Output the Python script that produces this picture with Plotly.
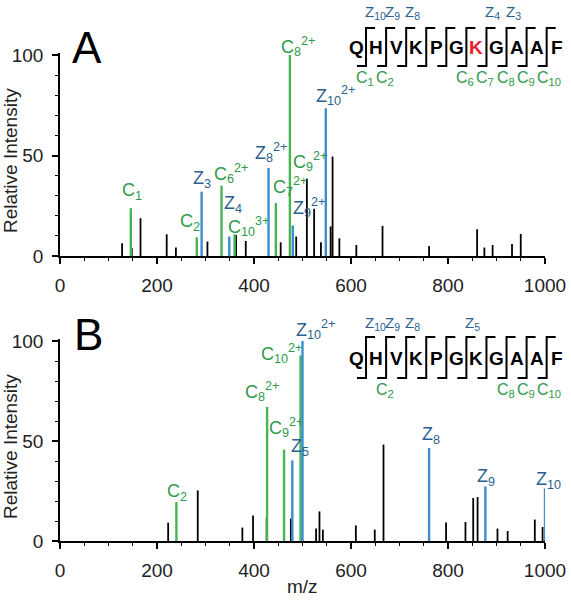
import plotly.graph_objects as go

W, H = 571, 600

# ---------------- data: panel A ----------------
a_black_mz = [128, 148, 166, 220, 239, 304, 363, 383, 455, 487, 509, 524, 538, 558, 562, 576,
              611, 665, 761, 860, 875, 892, 932, 950]
a_black_int = [6.3, 4, 18.8, 10.8, 4.2, 7.2, 10.5, 7.5, 6.8, 9.7, 38.5, 23.5, 6.8, 14.7, 49.5, 8.8,
               5.5, 15, 5, 13.3, 4.2, 5.5, 6, 11]
a_c_mz = [146, 282, 333, 360, 445, 474]
a_c_int = [23.8, 9.3, 35, 10.8, 26.3, 100]
a_c_lab = ["C<sub>1</sub>", "C<sub>2</sub>", "C<sub>6</sub><sup>2+</sup>", "C<sub>10</sub><sup>3+</sup>",
           "C<sub>7</sub><sup>2+</sup>", "C<sub>8</sub><sup>2+</sup>"]
a_z_mz = [292, 349, 430, 480, 548]
a_z_int = [32, 9.7, 43.8, 15.2, 73.5]
a_z_lab = ["Z<sub>3</sub>", "Z<sub>4</sub>", "Z<sub>8</sub><sup>2+</sup>", "Z<sub>9</sub><sup>2+</sup>",
           "Z<sub>10</sub><sup>2+</sup>"]
a_extra_mz = [509]
a_extra_int = [38.5]
a_extra_lab = ["C<sub>9</sub><sup>2+</sup>"]

# ---------------- data: panel B ----------------
b_black_mz = [223, 284, 376, 398, 426, 476, 528, 535, 542, 610, 649, 667, 796, 836, 852, 861,
              902, 923, 979, 995]
b_black_int = [9.2, 25.3, 6.7, 12.8, 11.7, 11.2, 6.2, 14.8, 5.7, 7.8, 5.7, 48.2, 9.2, 9.5, 21.5, 22,
               6.2, 5, 10.7, 7]
b_c_mz = [240, 427, 462, 496]
b_c_int = [19.5, 67, 45.7, 92.8]
b_c_lab = ["C<sub>2</sub>", "C<sub>8</sub><sup>2+</sup>", "C<sub>9</sub><sup>2+</sup>", "C<sub>10</sub><sup>2+</sup>"]
b_z_mz = [479, 500, 761, 877, 1000]
b_z_int = [40.3, 100, 46.5, 27.3, 26.2]
b_z_lab = ["Z<sub>5</sub>", "Z<sub>10</sub><sup>2+</sup>", "Z<sub>8</sub>", "Z<sub>9</sub>", "Z<sub>10</sub>"]

# sequence diagrams
sequence = "QHVKPGKGAAF"
a_mod_index = 6
a_seq_z = [10, 9, 8, 4, 3]
a_seq_c = [1, 2, 6, 7, 8, 9, 10]
b_seq_z = [10, 9, 8, 5]
b_seq_c = [2, 8, 9, 10]

x_ticks = [0, 200, 400, 600, 800, 1000]
y_ticks = [0, 50, 100]

# ---------------- styles / label offsets (pixels) ----------------
a_c_off = [(-10, 4), (-18, 2), (-9, -1), (-8, -6), (-4, 3), (-10, -5)]
a_z_off = [(-10, 0), (-6, 20), (-15, 2), (-1, 4), (-11, -1)]
a_extra_off = [(-15, 4)]
b_c_off = [(-10, -3), (-23, 2), (-16, 9), (-41, -12)]
b_z_off = [(-2, 0), (-8, -2), (-8, 0), (-9, -4), (-10, -4)]

GREEN_LINE = "#46b553"
GREEN_TEXT = "#2f9a4a"
BLUE_LINE = "#3b8ed0"
BLUE_TEXT = "#2b5f8f"
FONT = "Liberation Sans, Arial, sans-serif"
LABEL_SIZE = 18


def stems(mz, inten):
    xs, ys = [], []
    for m, h in zip(mz, inten):
        xs += [m, m, None]
        ys += [0, h, None]
    return xs, ys


fig = go.Figure()

for (xa, ya, sets) in [
    ("x", "y", [(a_black_mz, a_black_int, "black", 1.8), (a_c_mz, a_c_int, GREEN_LINE, 2.4),
                (a_z_mz, a_z_int, BLUE_LINE, 2.4)]),
    ("x2", "y2", [(b_black_mz, b_black_int, "black", 1.8), (b_c_mz, b_c_int, GREEN_LINE, 2.4),
                  (b_z_mz, b_z_int, BLUE_LINE, 2.4)]),
]:
    for mz, inten, col, w in sets:
        xs, ys = stems(mz, inten)
        fig.add_trace(go.Scatter(x=xs, y=ys, mode="lines", line=dict(color=col, width=w),
                                 xaxis=xa, yaxis=ya, showlegend=False, hoverinfo="skip"))

annotations = []


def peak_labels(mz, inten, labs, offs, color, xref, yref):
    for m, h, t, (dx, dy) in zip(mz, inten, labs, offs):
        annotations.append(dict(x=m, y=h, xref=xref, yref=yref, text=t, showarrow=False,
                                xanchor="left", yanchor="bottom", xshift=dx, yshift=dy,
                                borderpad=0, font=dict(size=LABEL_SIZE, color=color, family=FONT)))


peak_labels(a_c_mz, a_c_int, a_c_lab, a_c_off, GREEN_TEXT, "x", "y")
peak_labels(a_z_mz, a_z_int, a_z_lab, a_z_off, BLUE_TEXT, "x", "y")
peak_labels(a_extra_mz, a_extra_int, a_extra_lab, a_extra_off, GREEN_TEXT, "x", "y")
peak_labels(b_c_mz, b_c_int, b_c_lab, b_c_off, GREEN_TEXT, "x2", "y2")
peak_labels(b_z_mz, b_z_int, b_z_lab, b_z_off, BLUE_TEXT, "x2", "y2")


def px(x):
    return x / W


def py(y):
    return 1 - y / H


shapes = []
X0, STEP = 356, 20.07


def seq_diagram(yc, ytop, ybot, zlist, clist, mod_index, zbot, ctop):
    for i, ch in enumerate(sequence):
        col = "#e8202a" if i == mod_index else "black"
        annotations.append(dict(x=px(X0 + STEP * i), y=py(yc), xref="paper", yref="paper",
                                text="<b>%s</b>" % ch, showarrow=False, xanchor="center",
                                yanchor="middle", font=dict(size=19, color=col, family=FONT)))
    for k in range(1, len(sequence)):
        s = X0 + STEP * (k - 0.5)
        shapes.append(dict(type="path", xref="paper", yref="paper",
                           path="M %f,%f L %f,%f L %f,%f L %f,%f" % (
                               px(s - 9), py(ybot), px(s), py(ybot), px(s), py(ytop), px(s + 9), py(ytop)),
                           line=dict(color="black", width=2)))
    for n in zlist:
        s = X0 + STEP * (len(sequence) - n - 0.5)
        annotations.append(dict(x=px(s - 2), y=py(zbot), xref="paper", yref="paper",
                                text="Z<sub>%d</sub>" % n, showarrow=False, xanchor="left",
                                yanchor="bottom", borderpad=0,
                                font=dict(size=15, color=BLUE_TEXT, family=FONT)))
    for n in clist:
        s = X0 + STEP * (n - 0.5)
        annotations.append(dict(x=px(s - 11), y=py(ctop), xref="paper", yref="paper",
                                text="C<sub>%d</sub>" % n, showarrow=False, xanchor="left",
                                yanchor="top", borderpad=0,
                                font=dict(size=16, color=GREEN_TEXT, family=FONT)))


seq_diagram(47, 28, 66, a_seq_z, a_seq_c, a_mod_index, 23, 68)
seq_diagram(358, 337, 378, b_seq_z, b_seq_c, -1, 334, 380)

# panel letters and axis titles
annotations.append(dict(x=px(87), y=py(48), xref="paper", yref="paper", text="A", showarrow=False,
                        xanchor="center", yanchor="middle", font=dict(size=44, color="black", family=FONT)))
annotations.append(dict(x=px(88), y=py(334), xref="paper", yref="paper", text="B", showarrow=False,
                        xanchor="center", yanchor="middle", font=dict(size=44, color="black", family=FONT)))
for yc in (161, 447):
    annotations.append(dict(x=px(10), y=py(yc), xref="paper", yref="paper", text="Relative Intensity",
                            showarrow=False, textangle=-90, xanchor="center", yanchor="middle",
                            font=dict(size=19, color="#222", family=FONT)))
annotations.append(dict(x=px(302), y=py(586), xref="paper", yref="paper", text="m/z", showarrow=False,
                        xanchor="center", yanchor="middle", font=dict(size=19, color="#222", family=FONT)))

xdom = [px(60), px(545)]
common_x = dict(range=[0, 1000], tickvals=x_ticks, showline=True, linecolor="black", linewidth=1.5,
                ticks="outside", ticklen=6, tickwidth=1.5, tickcolor="black", showgrid=False, zeroline=False,
                tickfont=dict(size=19, color="#222", family=FONT), ticklabelstandoff=5,
                minor=dict(dtick=50, ticks="outside", ticklen=3, tickcolor="black", tickwidth=1.2, showgrid=False),
                fixedrange=True, automargin=False)
common_y = dict(range=[0, 101], tickvals=y_ticks, showline=True, linecolor="black", linewidth=1.5,
                ticks="outside", ticklen=6, tickwidth=1.5, tickcolor="black", showgrid=False, zeroline=False,
                tickfont=dict(size=19, color="#222", family=FONT), ticklabelstandoff=5,
                minor=dict(dtick=10, ticks="outside", ticklen=3, tickcolor="black", tickwidth=1.2, showgrid=False),
                fixedrange=True, automargin=False)

fig.update_layout(
    width=W, height=H,
    margin=dict(l=0, r=0, t=0, b=0),
    paper_bgcolor="white", plot_bgcolor="white",
    showlegend=False,
    xaxis=dict(domain=xdom, anchor="y", **common_x),
    yaxis=dict(domain=[py(256), py(53)], anchor="x", **common_y),
    xaxis2=dict(domain=xdom, anchor="y2", **common_x),
    yaxis2=dict(domain=[py(541), py(339)], anchor="x2", **common_y),
    annotations=annotations,
    shapes=shapes,
)

# remove the default 8 px page margin so the figure fills the window exactly
fig.write_html("out.html", config={"displayModeBar": False},
               post_script="document.body.style.margin='0px';")
